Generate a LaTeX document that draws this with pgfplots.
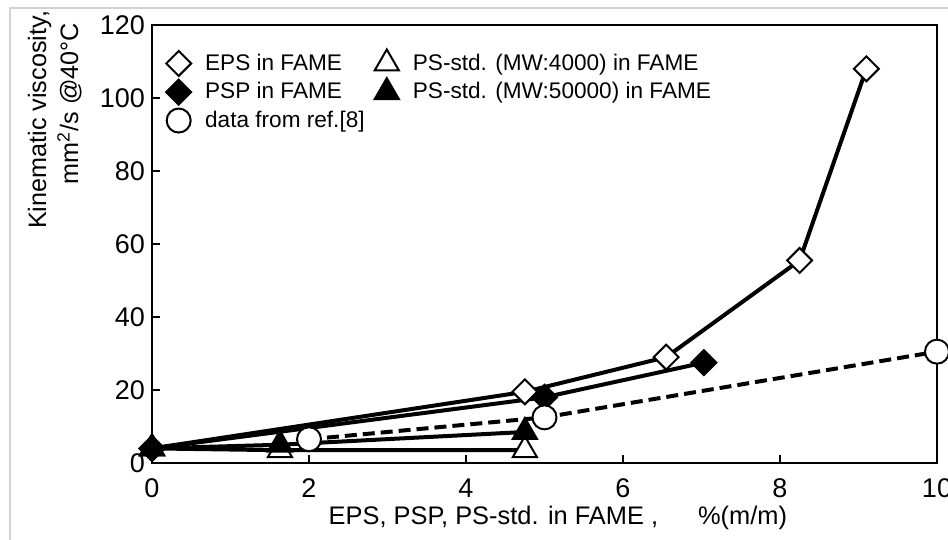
\documentclass[border=0pt]{standalone}
\usepackage{fontspec}
\setmainfont{Liberation Sans}
\usepackage{pgfplots}
\pgfplotsset{compat=1.18}
\begin{document}
\begin{tikzpicture}
\begin{axis}[
  name=ax,
  scale only axis,
  width=392.5pt, height=219pt,
  xmin=0, xmax=10, ymin=0, ymax=120,
  xtick={0,2,4,6,8,10}, ytick={0,20,40,60,80,100,120},
  tick align=inside, xtick pos=left, ytick pos=left,
  major tick length=4pt,
  axis line style={line width=0.9pt},
  tick style={line width=0.8pt, black},
  ticklabel style={font=\fontsize{13.5}{15}\selectfont},
  /pgf/number format/assume math mode=true,
  xticklabel style={yshift=-4.5pt},
  xlabel={EPS, PSP, PS-std. in FAME ,\hspace{20pt}\%(m/m)},
  xlabel style={font=\fontsize{12.7}{15}\selectfont, at={(axis description cs:0.517,0)}, anchor=north, yshift=-18pt},
  ylabel={Kinematic viscosity,\\ mm\textsuperscript{2}/s @40°C\hspace*{6pt}},
  ylabel style={font=\fontsize{12.6}{16}\selectfont, at={(axis description cs:-0.089,1.033)}, anchor=south east, align=right, inner sep=0pt},
  legend columns=2,
  legend cell align=left,
  legend style={draw=none, fill=none, at={(axis cs:0.1,114.5)}, anchor=north west,
    font=\fontsize{11.3}{13}\selectfont,
    /tikz/every even column/.append style={column sep=3pt},
    /tikz/every odd column/.append style={column sep=5pt},
    row sep=0.5pt},
  legend image code/.code={\draw[#1, only marks] plot coordinates {(0pt,0pt)};},
]
% EPS in FAME
\addplot[line width=2pt, mark=square*, mark size=4.4pt,
  mark options={rotate=45, fill=white, line width=1pt, solid}]
  coordinates {(0,4) (4.75,19.5) (6.55,29) (8.25,55.5) (9.1,108)};
\addlegendentry{EPS in FAME}
% PS-std 4000
\addplot[line width=2pt, mark=triangle*, mark size=7pt,
  mark options={fill=white, line width=1pt, solid}]
  coordinates {(0,4) (1.63,3.5) (4.75,3.5)};
\addlegendentry{PS-std. (MW:4000) in FAME}
% PSP in FAME
\addplot[line width=2pt, mark=square*, mark size=4.4pt,
  mark options={rotate=45, fill=black, line width=1pt, solid}]
  coordinates {(0,4) (5.0,18) (7.03,27.5)};
\addlegendentry{PSP in FAME}
% PS-std 50000
\addplot[line width=2pt, mark=triangle*, mark size=7pt,
  mark options={fill=black, line width=1pt, solid}]
  coordinates {(0,4) (1.63,5) (4.75,8.5)};
\addlegendentry{PS-std. (MW:50000) in FAME}
% ref [8]
\addplot[line width=2pt, dash pattern=on 6pt off 3pt, mark=*, mark size=6pt,
  mark options={fill=white, line width=1pt, solid}]
  coordinates {(2,6.5) (5,12.5) (10,30.5)};
\addlegendentry{data from ref.[8]}
\end{axis}
\pgfresetboundingbox
\path[use as bounding box] ([xshift=-76pt,yshift=-38.5pt]ax.south west) rectangle ([xshift=5.5pt,yshift=12.5pt]ax.north east);
\draw[gray!35, line width=0.8pt] ([xshift=-71pt,yshift=-45pt]ax.south west) -- ([xshift=-71pt,yshift=8.5pt]ax.north west) -- ([xshift=10pt,yshift=8.5pt]ax.north east);
\end{tikzpicture}
\end{document}
